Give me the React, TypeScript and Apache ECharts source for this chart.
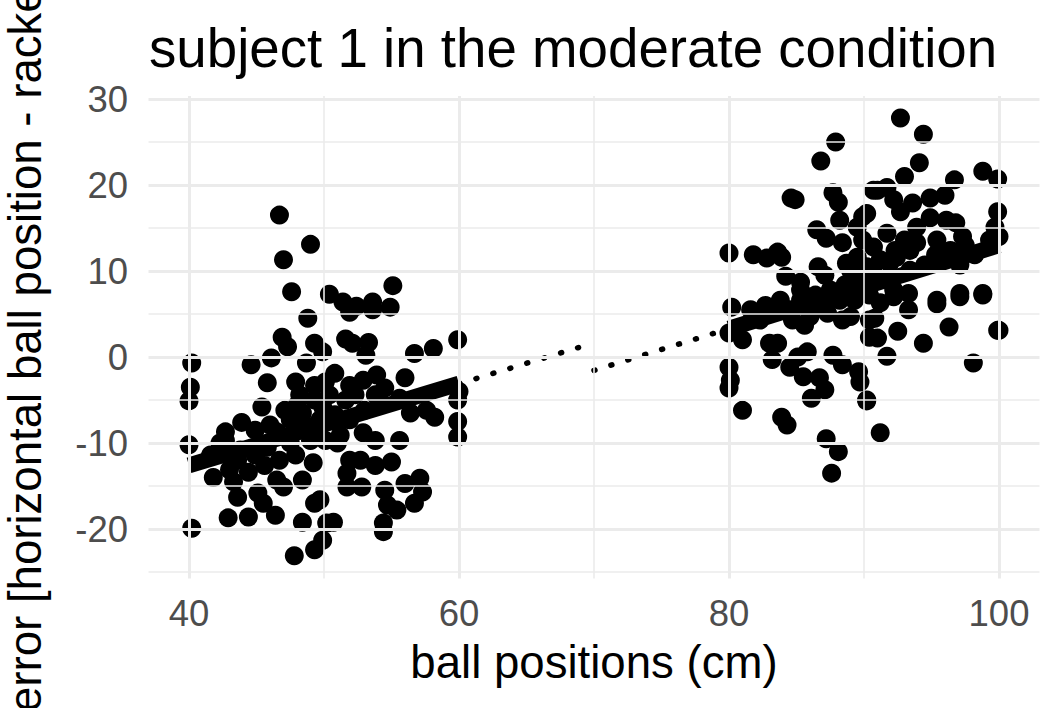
import React, { useEffect, useRef } from "react";
import * as echarts from "echarts";

const leftX = [46.7,49.0,47.0,47.6,50.4,48.8,55.1,51.4,51.9,52.4,53.6,53.6,54.9,51.6,52.1,53.3,53.1,49.9,56.7,58.1,59.9,56.0,50.8,53.9,52.9,51.9,46.9,47.3,49.3,40.2,44.6,46.1,48.7,40.1,45.8,47.9,50.1,40.0,40.0,40.2,45.4,48.0,48.4,49.9,43.9,42.7,42.3,44.9,46.5,41.8,43.3,44.4,43.6,45.1,45.5,42.9,44.4,46.4,48.4,49.3,50.2,49.9,49.3,47.8,46.5,47.0,48.4,49.2,47.5,45.8,43.6,59.9,59.9,55.6,55.0,53.8,52.7,51.9,51.7,51.7,52.8,54.5,54.7,55.4,56.0,57.1,57.3,56.7,54.4,54.4,50.7,49.7,58.2,56.4,53.8,52.9,51.0,49.7,54.1,55.6,57.6,60.0,59.9,48.2,49.3,50.4,51.6,47.5,48.6,49.7,50.8,51.9,51.2,50.1,49.0,47.9,46.7,45.6,44.9,43.8,43.0,41.6,42.7,46.0,47.1,49.3,52.3,53.0,53.8,54.5];
const leftY = [16.5,13.1,11.3,7.6,7.3,4.5,8.3,6.4,5.2,5.9,6.4,5.5,5.8,2.1,1.6,1.7,0.2,0.6,0.4,1.0,2.0,-2.4,-1.9,-2.1,-2.7,-3.3,2.3,1.2,1.6,-0.7,-0.9,-0.1,-0.7,-3.5,-3.0,-2.9,-2.9,-5.1,-10.2,-19.9,-5.8,-5.6,-6.5,-5.8,-7.6,-8.7,-10.0,-8.5,-8.7,-14.0,-14.5,-13.4,-16.3,-15.8,-17.0,-18.7,-18.6,-18.4,-19.2,-17.0,-19.3,-21.3,-22.4,-23.1,-14.3,-15.1,-14.3,-12.3,-10.0,-10.5,-12.0,-7.5,-9.3,-9.7,-12.2,-12.6,-12.0,-12.0,-13.5,-15.1,-15.1,-15.5,-17.2,-17.8,-14.7,-14.1,-15.7,-17.0,-19.3,-20.3,-19.2,-16.6,-7.0,-6.5,-9.7,-8.8,-10.0,-8.1,-5.3,-4.8,-6.2,-4.0,-5.0,-4.4,-5.0,-4.4,-5.0,-7.3,-7.9,-7.3,-6.7,-7.3,-9.1,-9.7,-9.7,-11.4,-12.0,-12.6,-11.4,-10.8,-13.1,-11.4,-9.7,-7.9,-6.2,-3.3,-4.4,-6.2,-4.4,-3.6];

const rightX = [80.0,81.8,82.8,83.6,83.9,84.2,86.6,85.3,88.7,89.5,89.9,87.9,86.8,84.6,84.9,87.7,88.1,86.5,87.2,88.2,88.4,89.5,90.2,90.7,80.2,80.0,81.0,83.0,83.6,83.2,84.5,85.1,85.8,85.5,86.7,87.1,86.1,87.7,88.4,89.6,89.7,90.2,80.0,80.1,80.0,81.0,83.9,84.3,87.2,88.1,87.6,84.7,86.0,87.3,88.4,89.0,90.4,90.4,92.7,94.4,94.1,93.0,96.7,98.8,99.9,91.0,91.7,92.2,93.6,94.9,96.0,92.7,99.9,99.7,100.0,94.9,96.1,96.8,97.3,93.9,95.4,93.9,91.7,90.7,91.9,92.4,90.2,93.4,92.2,93.3,95.4,97.1,98.8,89.9,95.4,97.1,98.8,93.3,92.5,96.3,99.9,100.0,94.4,91.0,91.7,98.1,90.8,91.2,92.2,90.2,91.2,85.3,86.4,87.5,88.6,89.7,90.8,86.7,88.2,89.3,90.4,91.6,84.5,85.6,82.3,81.6,82.7,83.8,85.3,87.1,89.0,91.2,92.3,93.0,93.4,94.5,95.3,96.4,97.5,98.2,99.3,97.1];
const rightY = [12.1,11.9,11.5,12.2,11.6,9.4,10.5,8.7,10.9,11.6,13.6,25.0,22.8,18.5,18.3,19.1,18.0,14.8,13.8,15.9,13.3,15.1,16.7,19.4,5.8,2.8,2.0,1.6,1.6,-0.3,-1.2,0.0,0.6,-2.3,-2.4,-3.8,-4.8,0.2,-0.9,-1.7,-2.9,-5.0,-1.2,-2.7,-3.6,-6.2,-7.0,-7.9,-9.5,-11.0,-13.5,4.3,4.7,5.1,4.3,4.7,4.3,2.3,27.8,25.9,22.6,21.0,20.6,21.6,20.7,19.4,19.7,18.3,17.9,18.5,18.8,16.9,16.9,15.1,14.0,16.2,15.9,15.6,14.0,15.1,13.6,13.3,14.4,12.8,10.9,11.6,10.5,12.4,7.8,7.4,6.6,7.4,7.4,16.3,6.2,7.0,7.2,5.5,3.0,3.5,3.1,3.1,1.6,2.2,0.1,-0.7,4.5,6.3,7.0,-5.1,-8.8,6.6,7.2,7.8,8.4,9.0,9.5,6.0,6.6,6.6,7.2,9.0,5.5,3.7,4.3,5.5,6.0,6.6,7.8,9.5,10.1,11.3,12.4,13.6,10.1,10.7,11.9,12.4,13.0,11.9,13.6,10.7];

// fitted lines (solid within data range, dotted extrapolation to 70)
const leftFit = [[40, -12.6], [60, -3.1]];
const leftExtrap = [[60, -3.1], [70, 1.65]];
const rightFit = [[80, 3.3], [100, 13.0]];
const rightExtrap = [[70, -1.55], [80, 3.3]];

const xMajor = [40, 60, 80, 100];
const xMinor = [50, 70, 90];
const yMajor = [-20, -10, 0, 10, 20, 30];
const yMinor = [-25, -15, -5, 5, 15, 25];

const titleText = "subject 1 in the moderate condition";
const xTitle = "ball positions (cm)";
const yTitle = "error [horizontal ball position - racket]";

const FONT = "'Liberation Sans', Arial, Helvetica, sans-serif";

export default function App() {
  const ref = useRef<HTMLDivElement>(null);
  useEffect(() => {
    if (!ref.current) return;
    const chart = echarts.init(ref.current, undefined, { renderer: "svg" });
    const points = leftX.map((x, i) => [x, leftY[i]]).concat(rightX.map((x, i) => [x, rightY[i]]));
    const gridLines = [
      ...xMajor.map((v) => ({ xAxis: v, lineStyle: { width: 3 } })),
      ...xMinor.map((v) => ({ xAxis: v, lineStyle: { width: 1.6 } })),
      ...yMajor.map((v) => ({ yAxis: v, lineStyle: { width: 3 } })),
      ...yMinor.map((v) => ({ yAxis: v, lineStyle: { width: 1.6 } })),
    ];
    const solid = { color: "#000", width: 16, cap: "butt" as const, opacity: 1 };
    const dotted = { color: "#000", width: 5.5, cap: "round" as const, type: [1, 16.7], opacity: 1 };
    chart.setOption({
      animation: false,
      backgroundColor: "#fff",
      grid: { left: 148.5, right: 22.5, top: 96, bottom: 129.5, containLabel: false },
      xAxis: {
        type: "value",
        min: 37,
        max: 103,
        axisLine: { show: false },
        axisTick: { show: false },
        splitLine: { show: false },
        axisLabel: {
          customValues: xMajor,
          color: "#4D4D4D",
          fontSize: 36.5,
          fontFamily: FONT,
          margin: 16,
        },
      },
      yAxis: {
        type: "value",
        min: -25.75,
        max: 30.35,
        axisLine: { show: false },
        axisTick: { show: false },
        splitLine: { show: false },
        axisLabel: {
          customValues: yMajor,
          color: "#4D4D4D",
          fontSize: 36.5,
          fontFamily: FONT,
          margin: 20.5,
        },
      },
      graphic: [
        {
          type: "text",
          x: 149,
          y: 48,
          style: { text: titleText, fontSize: 54.7, fontFamily: FONT, fill: "#000", verticalAlign: "middle", align: "left" },
        },
        {
          type: "text",
          x: 594,
          y: 662,
          style: { text: xTitle, fontSize: 45.6, fontFamily: FONT, fill: "#000", verticalAlign: "middle", align: "center" },
        },
        {
          type: "text",
          x: 25,
          y: 337,
          rotation: Math.PI / 2,
          style: { text: yTitle, fontSize: 45.6, fontFamily: FONT, fill: "#000", verticalAlign: "middle", align: "center" },
        },
      ],
      series: [
        {
          type: "line",
          data: [],
          z: 0,
          silent: true,
          markLine: {
            silent: true,
            symbol: ["none", "none"],
            label: { show: false },
            lineStyle: { color: "#EBEBEB", type: "solid", opacity: 1 },
            data: gridLines,
          },
        },
        {
          type: "scatter",
          data: points,
          symbol: "circle",
          symbolSize: 19,
          itemStyle: { color: "#000", opacity: 1 },
          z: 2,
        },
        { type: "line", data: leftFit, showSymbol: false, lineStyle: solid, z: 3 },
        { type: "line", data: rightFit, showSymbol: false, lineStyle: solid, z: 3 },
        { type: "line", data: leftExtrap, showSymbol: false, lineStyle: dotted, z: 3 },
        { type: "line", data: rightExtrap, showSymbol: false, lineStyle: dotted, z: 3 },
      ],
    });
    return () => chart.dispose();
  }, []);
  return (
    <div
      ref={ref}
      style={{ position: "absolute", left: 0, top: 0, width: "1062px", height: "708px" }}
    />
  );
}
